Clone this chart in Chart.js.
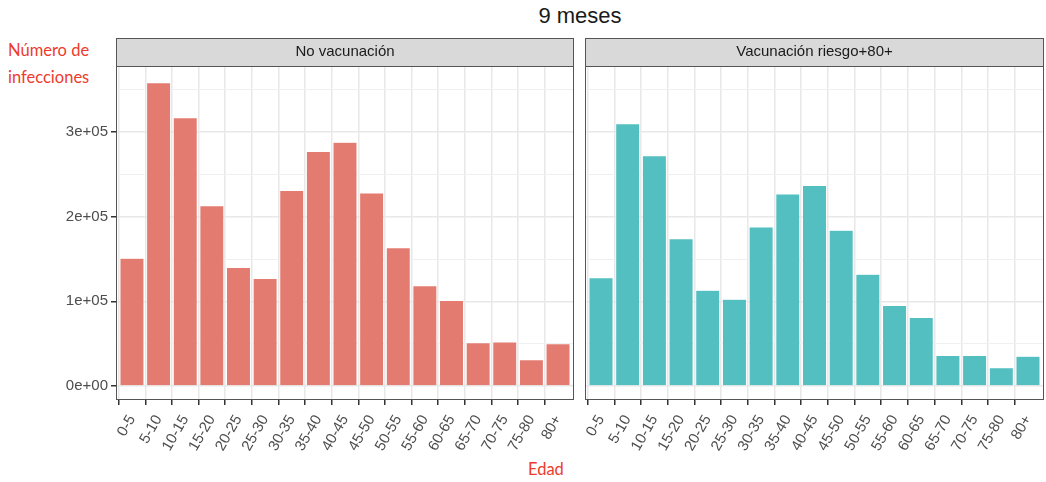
<!DOCTYPE html>
<html>
<head>
<meta charset="utf-8">
<script src="https://cdn.jsdelivr.net/npm/chart.js@4.4.1/dist/chart.umd.min.js"></script>
<style>
  body { margin: 0; background: #fff; width: 1046px; height: 482px; position: relative; overflow: hidden; font-family: "Liberation Sans", Arial, sans-serif; }
  .title { position: absolute; left: 480px; width: 200px; top: 3px; text-align: center; font-size: 22px; color: #1a1a1a; }
  .note { position: absolute; color: #ee3b2b; font-family: Lato, "Open Sans", sans-serif; font-size: 16.5px; line-height: 27px; }
  canvas { position: absolute; }
</style>
</head>
<body>
<div class="title">9 meses</div>
<div class="note" style="left:8px; top:37px;">Número de<br>infecciones</div>
<div class="note" style="left:528px; top:456px;">Edad</div>
<canvas id="panelNoVac" width="578" height="444" style="left:0; top:38px;"></canvas>
<canvas id="panelVac" width="466" height="444" style="left:580px; top:38px;"></canvas>
<script>
// age bands on the x axis
const ageGroups = ['0-5', '5-10', '10-15', '15-20', '20-25', '25-30', '30-35', '35-40', '40-45',
  '45-50', '50-55', '55-60', '60-65', '65-70', '70-75', '75-80', '80+'];

// infections per age band
const noVaccination = [151000, 358500, 317000, 213000, 140000, 127000, 231000, 277000, 288000,
  228000, 163500, 118500, 101000, 51000, 52000, 31000, 50000];
const riskVaccination80 = [128000, 310000, 272000, 174000, 113000, 102500, 188000, 227000, 237000,
  184000, 132000, 95000, 81000, 36000, 36000, 21600, 35000];

const yTicks = [0, 100000, 200000, 300000];
const yMinorTicks = [50000, 150000, 250000, 350000];

const fmtSci = v => {
  if (v === 0) return '0e+00';
  const [m, e] = v.toExponential().split('e');
  const sign = e[0] === '-' ? '-' : '+';
  return m + 'e' + sign + e.replace(/[+-]/, '').padStart(2, '0');
};

// grey facet strip on top + dark panel border
const facetPlugin = {
  id: 'facet',
  afterDraw(chart, args, opts) {
    const { ctx, chartArea: a } = chart;
    ctx.save();
    ctx.fillStyle = '#d9d9d9';
    ctx.fillRect(a.left, a.top - 28, a.right - a.left, 28);
    ctx.strokeStyle = '#555';
    ctx.lineWidth = 1;
    ctx.strokeRect(a.left + 0.5, a.top - 27.5, a.right - a.left - 1, 28);
    ctx.strokeRect(a.left + 0.5, a.top + 0.5, a.right - a.left - 1, a.bottom - a.top - 1);
    ctx.fillStyle = '#1a1a1a';
    ctx.font = '15px "Liberation Sans", Arial, sans-serif';
    ctx.textAlign = 'center';
    ctx.textBaseline = 'middle';
    ctx.fillText(opts.text, (a.left + a.right) / 2, a.top - 14);
    ctx.restore();
  }
};

function makePanel(id, title, values, color, showY, padRight) {
  const isMajor = v => yTicks.includes(v);
  const isBand = v => Number.isInteger(v) && v >= 0 && v < ageGroups.length;
  return new Chart(document.getElementById(id), {
    type: 'bar',
    data: {
      datasets: [{
        data: values.map((v, i) => ({ x: i, y: v })),
        backgroundColor: color,
        borderColor: 'rgba(255,255,255,0.6)',
        borderWidth: 0.5,
        barPercentage: 0.9,
        categoryPercentage: 1
      }]
    },
    options: {
      responsive: false,
      animation: false,
      layout: { padding: { top: 28, right: padRight, left: showY ? 0 : 5, bottom: 0 } },
      plugins: {
        legend: { display: false },
        tooltip: { enabled: false },
        facet: { text: title }
      },
      scales: {
        x: {
          type: 'linear',
          min: -0.6,
          max: 16.6,
          offset: false,
          afterBuildTicks: s => { s.ticks = ageGroups.map((_, i) => ({ value: i })); },
          afterFit: s => { s.height = 82; s.paddingLeft = 0; s.paddingRight = 0; },
          border: { display: false },
          grid: {
            color: c => c.tick && isBand(c.tick.value) ? '#e8e8e8' : 'rgba(0,0,0,0)',
            lineWidth: 1.5,
            tickLength: 5,
            tickColor: c => c.tick && isBand(c.tick.value) ? '#333' : 'rgba(0,0,0,0)',
            tickWidth: 1.5
          },
          ticks: {
            autoSkip: false,
            minRotation: 60,
            maxRotation: 60,
            padding: 7,
            color: '#4d4d4d',
            font: { family: '"Liberation Sans", Arial, sans-serif', size: 15 },
            callback: v => isBand(v) ? ageGroups[v] : ''
          }
        },
        y: {
          min: -16600,
          max: 378200,
          afterBuildTicks: s => {
            s.ticks = yTicks.concat(yMinorTicks).sort((a, b) => a - b).map(v => ({ value: v }));
          },
          afterFit: s => { s.width = showY ? 116 : 0; },
          border: { display: false },
          grid: {
            color: c => isMajor(c.tick.value) ? '#e8e8e8' : '#f0f0f0',
            lineWidth: c => isMajor(c.tick.value) ? 1.5 : 1,
            drawTicks: showY,
            tickLength: 5,
            tickWidth: 1.5,
            tickColor: c => isMajor(c.tick.value) ? '#333' : 'rgba(0,0,0,0)'
          },
          ticks: {
            display: showY,
            padding: 3,
            color: '#4d4d4d',
            font: { family: '"Liberation Sans", Arial, sans-serif', size: 15 },
            callback: v => isMajor(v) ? fmtSci(v) : ''
          }
        }
      }
    },
    plugins: [facetPlugin]
  });
}

makePanel('panelNoVac', 'No vacunación', noVaccination, '#e47b70', true, 4);
makePanel('panelVac', 'Vacunación riesgo+80+', riskVaccination80, '#53bfc1', false, 2);
</script>
</body>
</html>
